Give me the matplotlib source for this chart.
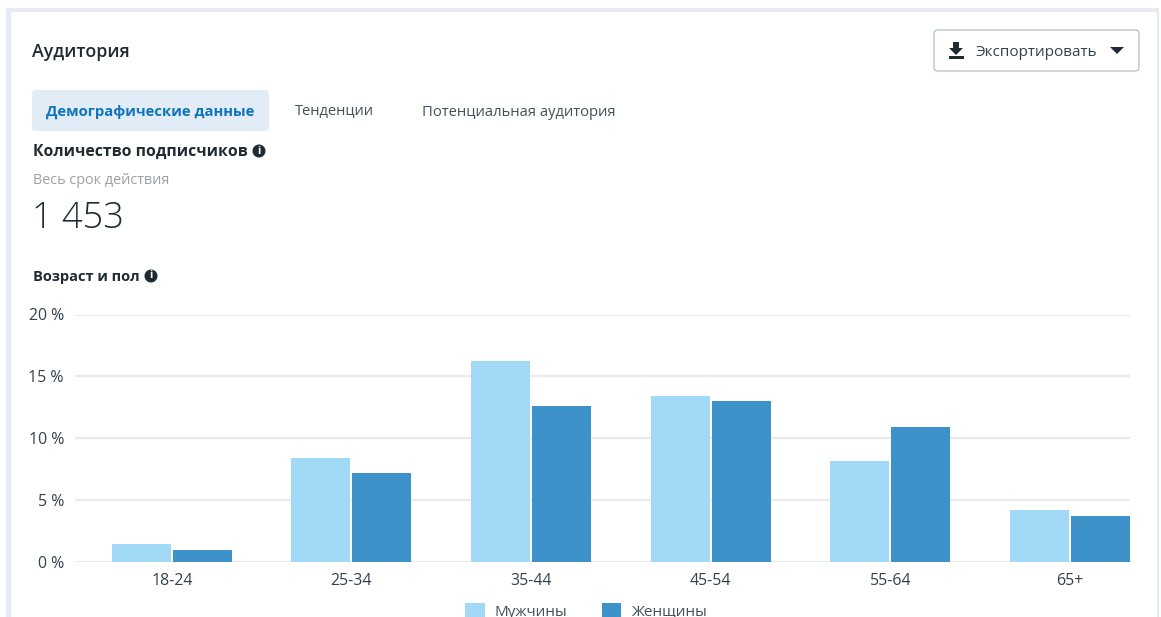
import matplotlib
matplotlib.use("Agg")
import matplotlib.pyplot as plt
from matplotlib.patches import FancyBboxPatch, Rectangle, Circle, Polygon

plt.rcParams['font.family'] = ['Open Sans', 'DejaVu Sans']

# данные графика
age_groups = ['18-24', '25-34', '35-44', '45-54', '55-64', '65+']
men = [1.4, 8.4, 16.2, 13.4, 8.1, 4.2]
women = [0.9, 7.2, 12.6, 13.0, 10.9, 3.7]
y_ticks = [0, 5, 10, 15, 20]
y_labels = ['0 %', '5 %', '10 %', '15 %', '20 %']

W, H = 1161, 617
fig = plt.figure(figsize=(W / 100, H / 100), dpi=100, facecolor='white')

# слой интерфейса в пикселях (y вниз)
ui = fig.add_axes([0, 0, 1, 1])
ui.set_xlim(0, W)
ui.set_ylim(H, 0)
ui.axis('off')

ui.add_patch(Rectangle((6, 8), 1153, 620, fc='#e4ecf7', ec='none'))
ui.add_patch(Rectangle((6, 8), 1153, 3, fc='#ece9f2', ec='none'))
ui.add_patch(FancyBboxPatch((11, 12), 1146, 620, boxstyle='round,pad=0,rounding_size=3',
                            fc='white', ec='none'))

dark = '#1f2a33'
ui.text(32, 52, 'Аудитория', fontsize=12.8, fontweight='semibold', color=dark, va='center')

# кнопка экспорта
ui.add_patch(FancyBboxPatch((934, 30), 205, 41, boxstyle='round,pad=0,rounding_size=4',
                            fc='white', ec='#a9b6c6', lw=0.8))
ui.add_patch(Polygon([(953, 42), (959, 42), (959, 48), (963, 48), (956, 55), (949, 48), (953, 48)],
                     fc=dark, ec='none'))
ui.add_patch(Rectangle((949, 56), 15, 3, fc=dark, ec='none'))
ui.text(975, 52, 'Экспортировать', fontsize=11, color='#33414d', va='center')
ui.add_patch(Polygon([(1110, 47), (1124, 47), (1117, 54)], fc=dark, ec='none'))

# вкладки
ui.add_patch(FancyBboxPatch((32, 90), 237, 41, boxstyle='round,pad=0,rounding_size=3',
                            fc='#e1ecf6', ec='none'))
ui.text(46, 112, 'Демографические данные', fontsize=10.7, fontweight='bold', color='#0f75bc', va='center')
ui.text(295, 112, 'Тенденции', fontsize=10.5, color='#44505a', va='center')
ui.text(422, 112, 'Потенциальная аудитория', fontsize=10.6, color='#44505a', va='center')

# заголовки
ui.text(33, 152, 'Количество подписчиков', fontsize=11.3, fontweight='bold', color=dark, va='center')
ui.text(33, 181, 'Весь срок действия', fontsize=10.4, color='#9aa2a9', va='center')
ui.text(32, 218, '1 453', fontsize=26, fontweight='light', color=dark, va='center')
ui.text(33, 277, 'Возраст и пол', fontsize=10.5, fontweight='bold', color=dark, va='center')

# значки "i"
for cx, cy in [(259, 151), (151, 276)]:
    ui.add_patch(Circle((cx, cy), 6.5, fc=dark, ec='none'))
    ui.text(cx, cy, 'i', fontsize=8, fontweight='bold', color='white', ha='center', va='center')

# график
left, right, top, bottom = 75, 1130, 314.5, 561.5
ax = fig.add_axes([left / W, 1 - bottom / H, (right - left) / W, (bottom - top) / H])
ax.patch.set_alpha(0)
step = 179.6
ax.set_xlim((left - 171.8) / step, (right - 171.8) / step)
ax.set_ylim(0, 20)

x = list(range(len(age_groups)))
bar_w = 59 / step
gap = 2 / step
bars_m = ax.bar([i - bar_w / 2 - gap / 2 for i in x], men, width=bar_w, color='#a2d9f7', zorder=3, label='Мужчины')
bars_w = ax.bar([i + bar_w / 2 + gap / 2 for i in x], women, width=bar_w, color='#3d92ca', zorder=3, label='Женщины')

ax.set_yticks(y_ticks, y_labels)
ax.set_xticks(x, age_groups)
ax.grid(axis='y', color='#e9ebee', lw=1.6, zorder=0)
ax.set_axisbelow(True)
for s in ax.spines.values():
    s.set_visible(False)
ax.tick_params(axis='both', length=0, labelcolor='#33414d', labelsize=11.4)
ax.tick_params(axis='x', pad=8)
ax.tick_params(axis='y', pad=8)

fig.legend(handles=[bars_m, bars_w], loc='center', bbox_to_anchor=(586 / W, 1 - 611.5 / H), ncol=2,
           frameon=False, fontsize=11, labelcolor='#44505a', handlelength=1.25, handleheight=1.25,
           handletextpad=0.65, columnspacing=2.27, borderpad=0)

fig.savefig('out.png', dpi=100)
